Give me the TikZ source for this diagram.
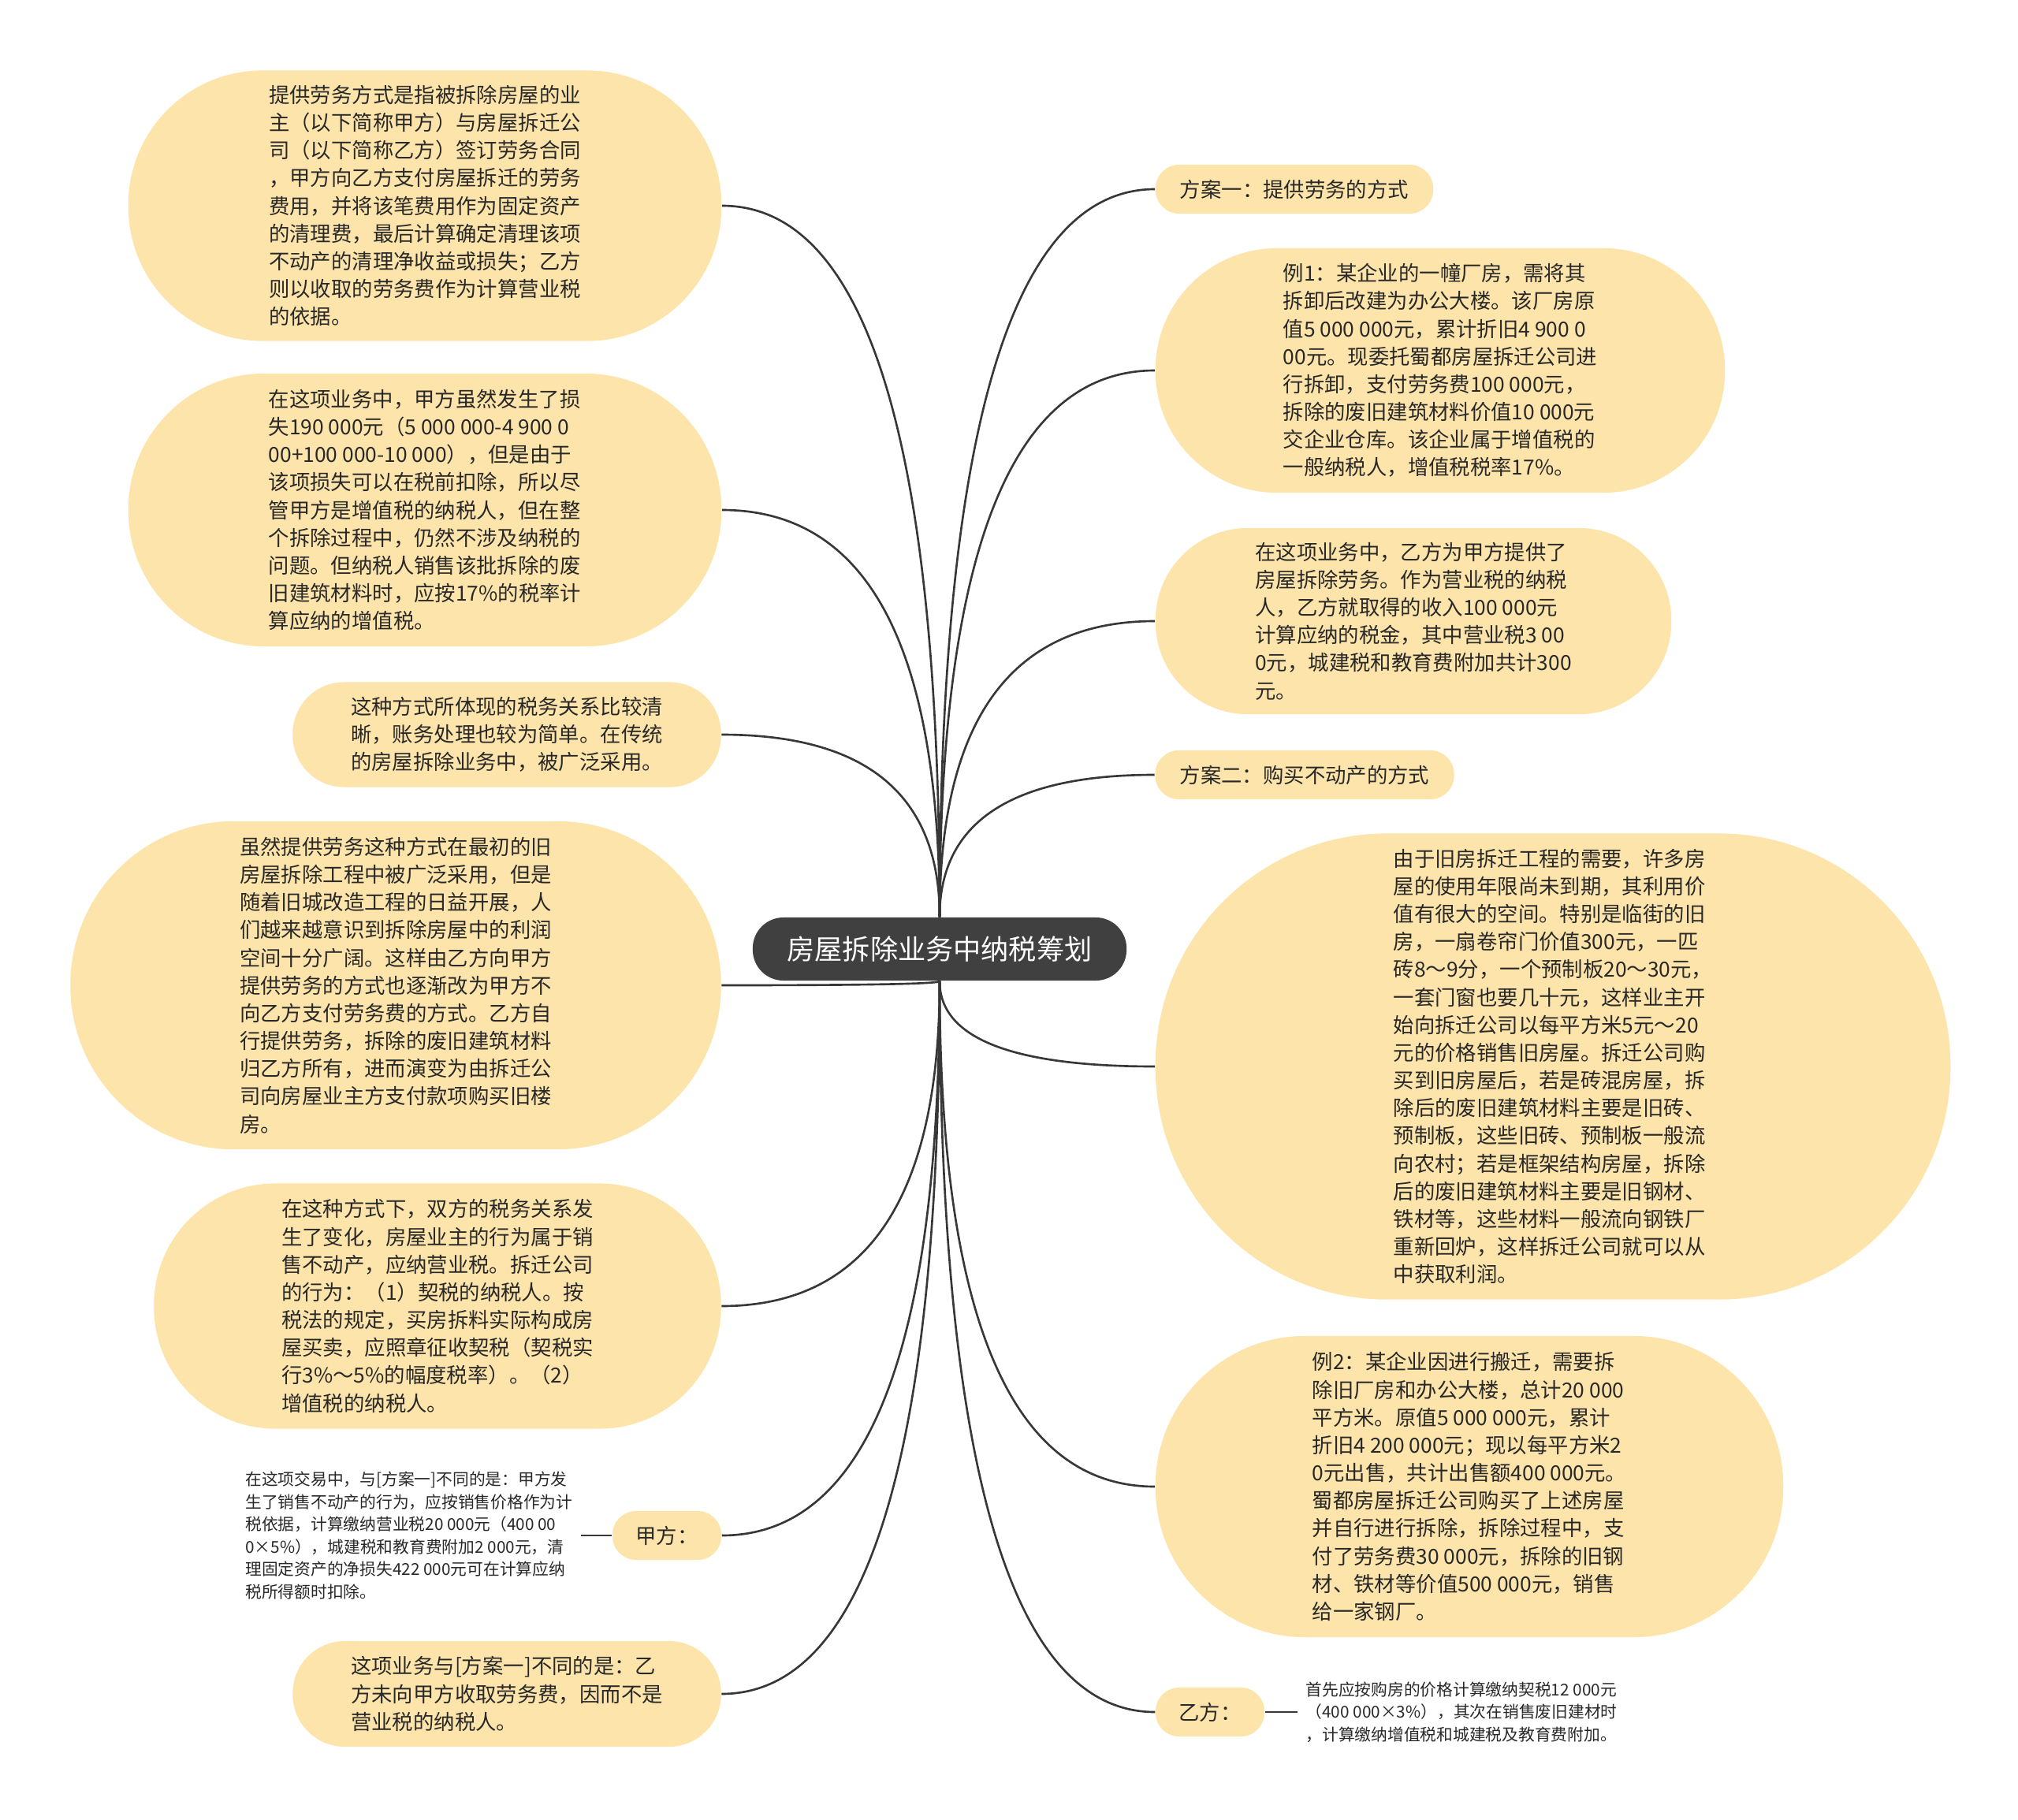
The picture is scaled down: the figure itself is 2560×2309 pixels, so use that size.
\documentclass[tikz,border=0pt]{standalone}
\usepackage{fontspec}
\setmainfont{Noto Sans CJK SC}
\usepackage{tikz}
\usetikzlibrary{calc}
\definecolor{PaleGold}{RGB}{253,228,170}
\definecolor{RootGray}{RGB}{64,64,64}
\definecolor{InkGray}{RGB}{40,40,40}
\definecolor{LineGray}{RGB}{55,55,55}
\tikzset{
  root/.style={fill=RootGray,text=white,rounded corners=0.39cm,inner sep=0pt,
    minimum width=4.74cm,minimum height=0.8cm,font=\fontsize{10}{12}\selectfont},
  bub/.style={fill=PaleGold,text=InkGray,inner sep=0pt,align=left,
    font=\fontsize{7.5}{10}\selectfont},
  tag/.style={fill=PaleGold,text=InkGray,inner sep=0pt,rounded corners=0.3cm,
    minimum height=0.62cm,font=\fontsize{7.5}{10}\selectfont},
  leaf/.style={text=InkGray,inner sep=0.1cm,align=left,
    font=\fontsize{5.9}{8.1}\selectfont},
  link/.style={draw=LineGray,line width=0.75pt},
  branch/.style={to path={.. controls ($(\tikztostart)!0.667!(\tikztostart|-\tikztotarget)$)
    and ($(\tikztotarget)!0.667!(\tikztostart|-\tikztotarget)$) .. (\tikztotarget)}},
}
\begin{document}
\begin{tikzpicture}[x=0.01cm,y=-0.01cm]
\useasboundingbox (0,0) rectangle (2560,2309);
% centre
\node[root] (root) at (1192,1204) {房屋拆除业务中纳税筹划};
\coordinate (rt) at (root.north);
\coordinate (rb) at (root.south);
% left side
\node[bub,minimum width=7.52cm,minimum height=3.43cm,rounded corners=1.70cm] (servDef) at (539,261) {%
提供劳务方式是指被拆除房屋的业\\
主（以下简称甲方）与房屋拆迁公\\
司（以下简称乙方）签订劳务合同\\
，甲方向乙方支付房屋拆迁的劳务\\
费用，并将该笔费用作为固定资产\\
的清理费，最后计算确定清理该项\\
不动产的清理净收益或损失；乙方\\
则以收取的劳务费作为计算营业税\\
的依据。};
\node[bub,minimum width=7.52cm,minimum height=3.46cm,rounded corners=1.72cm] (lossNote) at (539,647) {%
在这项业务中，甲方虽然发生了损\\
失190 000元（5 000 000-4 900 0\\
00+100 000-10 000），但是由于\\
该项损失可以在税前扣除，所以尽\\
管甲方是增值税的纳税人，但在整\\
个拆除过程中，仍然不涉及纳税的\\
问题。但纳税人销售该批拆除的废\\
旧建筑材料时，应按17\%的税率计\\
算应纳的增值税。};
\node[bub,minimum width=5.43cm,minimum height=1.33cm,rounded corners=0.65cm] (clearNote) at (643,932) {%
这种方式所体现的税务关系比较清\\
晰，账务处理也较为简单。在传统\\
的房屋拆除业务中，被广泛采用。};
\node[bub,minimum width=8.25cm,minimum height=4.16cm,rounded corners=2.07cm] (shiftNote) at (502,1250) {%
虽然提供劳务这种方式在最初的旧\\
房屋拆除工程中被广泛采用，但是\\
随着旧城改造工程的日益开展，人\\
们越来越意识到拆除房屋中的利润\\
空间十分广阔。这样由乙方向甲方\\
提供劳务的方式也逐渐改为甲方不\\
向乙方支付劳务费的方式。乙方自\\
行提供劳务，拆除的废旧建筑材料\\
归乙方所有，进而演变为由拆迁公\\
司向房屋业主方支付款项购买旧楼\\
房。};
\node[bub,minimum width=7.19cm,minimum height=3.11cm,rounded corners=1.54cm] (taxNote) at (555,1657) {%
在这种方式下，双方的税务关系发\\
生了变化，房屋业主的行为属于销\\
售不动产，应纳营业税。拆迁公司\\
的行为：（1）契税的纳税人。按\\
税法的规定，买房拆料实际构成房\\
屋买卖，应照章征收契税（契税实\\
行3\%～5\%的幅度税率）。（2）\\
增值税的纳税人。};
\node[tag,minimum width=1.38cm] (jiaFang) at (846,1948) {甲方：};
\node[leaf,anchor=east] (jiaLeaf) at (737,1948) {%
在这项交易中，与[方案一]不同的是：甲方发\\
生了销售不动产的行为，应按销售价格作为计\\
税依据，计算缴纳营业税20 000元（400 00\\
0×5\%），城建税和教育费附加2 000元，清\\
理固定资产的净损失422 000元可在计算应纳\\
税所得额时扣除。};
\node[bub,minimum width=5.43cm,minimum height=1.34cm,rounded corners=0.66cm] (diffNote) at (643,2149) {%
这项业务与[方案一]不同的是：乙\\
方未向甲方收取劳务费，因而不是\\
营业税的纳税人。};
% right side
\node[tag,minimum width=3.52cm] (planA) at (1642,240) {方案一：提供劳务的方式};
\node[bub,minimum width=7.22cm,minimum height=3.10cm,rounded corners=1.54cm] (caseA) at (1827,470) {%
例1：某企业的一幢厂房，需将其\\
拆卸后改建为办公大楼。该厂房原\\
值5 000 000元，累计折旧4 900 0\\
00元。现委托蜀都房屋拆迁公司进\\
行拆卸，支付劳务费100 000元，\\
拆除的废旧建筑材料价值10 000元\\
交企业仓库。该企业属于增值税的\\
一般纳税人，增值税税率17\%。};
\node[bub,minimum width=6.54cm,minimum height=2.36cm,rounded corners=1.17cm] (yiServ) at (1793,788) {%
在这项业务中，乙方为甲方提供了\\
房屋拆除劳务。作为营业税的纳税\\
人，乙方就取得的收入100 000元\\
计算应纳的税金，其中营业税3 00\\
0元，城建税和教育费附加共计300\\
元。};
\node[tag,minimum width=3.79cm] (planB) at (1655,983) {方案二：购买不动产的方式};
\node[bub,minimum width=10.08cm,minimum height=5.91cm,rounded corners=2.94cm] (profitNote) at (1970,1353) {%
由于旧房拆迁工程的需要，许多房\\
屋的使用年限尚未到期，其利用价\\
值有很大的空间。特别是临街的旧\\
房，一扇卷帘门价值300元，一匹\\
砖8～9分，一个预制板20～30元，\\
一套门窗也要几十元，这样业主开\\
始向拆迁公司以每平方米5元～20\\
元的价格销售旧房屋。拆迁公司购\\
买到旧房屋后，若是砖混房屋，拆\\
除后的废旧建筑材料主要是旧砖、\\
预制板，这些旧砖、预制板一般流\\
向农村；若是框架结构房屋，拆除\\
后的废旧建筑材料主要是旧钢材、\\
铁材等，这些材料一般流向钢铁厂\\
重新回炉，这样拆迁公司就可以从\\
中获取利润。};
\node[bub,minimum width=7.96cm,minimum height=3.82cm,rounded corners=1.90cm] (caseB) at (1864,1886) {%
例2：某企业因进行搬迁，需要拆\\
除旧厂房和办公大楼，总计20 000\\
平方米。原值5 000 000元，累计\\
折旧4 200 000元；现以每平方米2\\
0元出售，共计出售额400 000元。\\
蜀都房屋拆迁公司购买了上述房屋\\
并自行进行拆除，拆除过程中，支\\
付了劳务费30 000元，拆除的旧钢\\
材、铁材等价值500 000元，销售\\
给一家钢厂。};
\node[tag,minimum width=1.38cm] (yiFang) at (1535,2172) {乙方：};
\node[leaf,anchor=west] (yiLeaf) at (1646,2172) {%
首先应按购房的价格计算缴纳契税12 000元\\
（400 000×3\%），其次在销售废旧建材时\\
，计算缴纳增值税和城建税及教育费附加。};
% connectors
\draw[link] (rt) to[branch] (servDef.east);
\draw[link] (rt) to[branch] (lossNote.east);
\draw[link] (rt) to[branch] (clearNote.east);
\draw[link] (rb) to[branch] (shiftNote.east);
\draw[link] (rb) to[branch] (taxNote.east);
\draw[link] (rb) to[branch] (jiaFang.east);
\draw[link] (rb) to[branch] (diffNote.east);
\draw[link] (rt) to[branch] (planA.west);
\draw[link] (rt) to[branch] (caseA.west);
\draw[link] (rt) to[branch] (yiServ.west);
\draw[link] (rt) to[branch] (planB.west);
\draw[link] (rb) to[branch] (profitNote.west);
\draw[link] (rb) to[branch] (caseB.west);
\draw[link] (rb) to[branch] (yiFang.west);
\draw[link] (jiaFang.west) -- (jiaLeaf.east);
\draw[link] (yiFang.east) -- (yiLeaf.west);
\end{tikzpicture}
\end{document}
